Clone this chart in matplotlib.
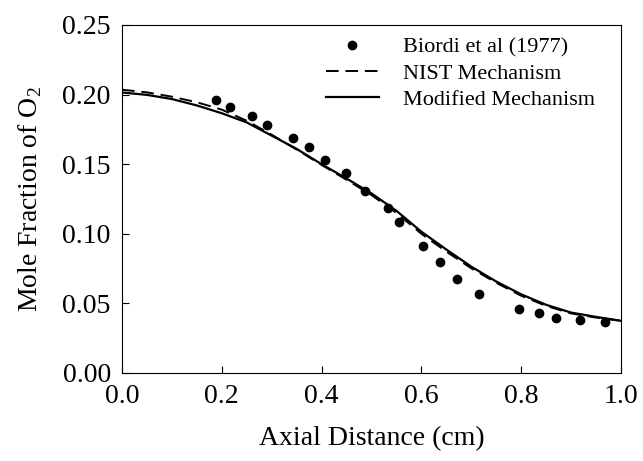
import numpy as np
import matplotlib
matplotlib.use("Agg")
import matplotlib.pyplot as plt

plt.rcParams['font.family'] = ['Liberation Serif', 'DejaVu Serif']
plt.rcParams['mathtext.fontset'] = 'custom'
plt.rcParams['mathtext.rm'] = 'Liberation Serif'

# measured data, Biordi et al (1977)
exp_x = [0.189, 0.217, 0.260, 0.291, 0.343, 0.375, 0.407, 0.449, 0.486, 0.533,
         0.555, 0.603, 0.637, 0.672, 0.715, 0.795, 0.835, 0.870, 0.918, 0.967]
exp_y = [0.196, 0.191, 0.1846, 0.178, 0.1688, 0.1621, 0.1528, 0.1438, 0.1307, 0.1188,
         0.1083, 0.0912, 0.0797, 0.0673, 0.0568, 0.0462, 0.0429, 0.0395, 0.0379, 0.0366]

# model curves
dist = [0.0, 0.05, 0.1, 0.15, 0.2, 0.25, 0.3, 0.35, 0.4, 0.45, 0.5,
        0.55, 0.6, 0.65, 0.7, 0.75, 0.8, 0.85, 0.9, 0.95, 1.0]
nist = [0.2035, 0.2016, 0.1985, 0.1945, 0.1892, 0.1812, 0.1712, 0.1605, 0.1495, 0.1388, 0.1278,
        0.1150, 0.1000, 0.0872, 0.0752, 0.0648, 0.0555, 0.0482, 0.0428, 0.0398, 0.0375]
modified = [0.2015, 0.1998, 0.1968, 0.1922, 0.1866, 0.1800, 0.1705, 0.1610, 0.1500, 0.1397, 0.1290,
            0.1165, 0.1015, 0.0887, 0.0764, 0.0657, 0.0565, 0.0490, 0.0434, 0.0403, 0.0375]

fig = plt.figure(figsize=(6.43, 4.61), dpi=100)
ax = fig.add_axes([0.1897, 0.1909, 0.7761, 0.7549])

ax.plot(exp_x, exp_y, 'o', color='black', markersize=6, label="Biordi et al (1977)")
ax.plot(dist, nist, color='black', lw=1.4, dashes=(6.5, 3.5), label="NIST Mechanism")
ax.plot(dist, modified, color='black', lw=1.6, label="Modified Mechanism")

ax.set_xlim(0, 1.0)
ax.set_ylim(0, 0.25)
ax.set_xticks(np.arange(0, 1.01, 0.2))
ax.set_yticks(np.arange(0, 0.251, 0.05))
ax.set_xticklabels(["%.1f" % v for v in np.arange(0, 1.01, 0.2)])
ax.set_yticklabels(["%.2f" % v for v in np.arange(0, 0.251, 0.05)])
ax.tick_params(direction='in', length=5, width=0.8, labelsize=20, pad=8,
               top=False, right=False)
for s in ax.spines.values():
    s.set_linewidth(0.8)

ax.set_xlabel("Axial Distance (cm)", fontsize=20, labelpad=12)
ax.set_ylabel("Mole Fraction of O$_2$", fontsize=20, labelpad=13)

ax.legend(loc='upper right', frameon=False, fontsize=16, numpoints=1,
          handlelength=2.4, handletextpad=1.1, labelspacing=0.25,
          borderaxespad=0.3, bbox_to_anchor=(0.98, 1.01))

fig.savefig("out.png", dpi=100)
